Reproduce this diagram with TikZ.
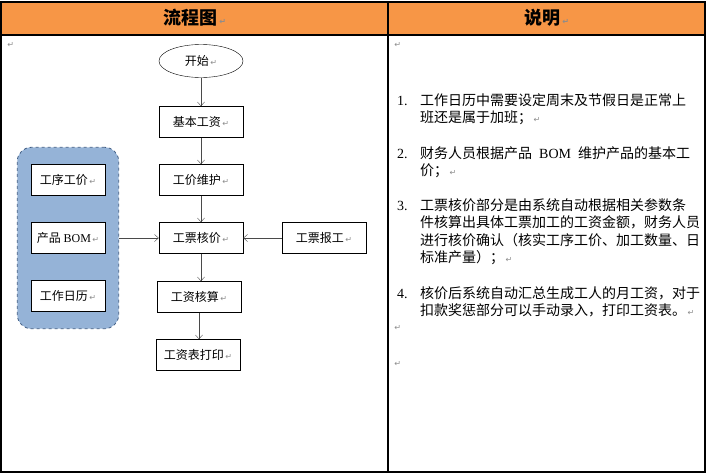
\documentclass[tikz,border=0pt]{standalone}
\usepackage{fontspec}
\setmainfont{Noto Sans CJK SC}
\newfontfamily\serifrm{Liberation Serif}
\newfontfamily\symfont{DejaVu Sans}
\usepackage{tikz}
\usetikzlibrary{positioning}
\usetikzlibrary{shapes,shapes.geometric,arrows.meta,fit,backgrounds}
\definecolor{headorange}{HTML}{F79646}
\definecolor{groupblue}{HTML}{95B3D7}
\definecolor{groupline}{HTML}{3F5C82}
\definecolor{markgray}{HTML}{8C8C8C}
\definecolor{edgegray}{HTML}{4A4A4A}
\newcommand{\retmark}{{\symfont\fontsize{8}{8}\selectfont\color{markgray}\,↵}}
\tikzstyle{novertex} = [draw=none, fill=none, text centered, inner sep=0pt]
\tikzstyle{startnode} = [ellipse, draw, minimum width=84pt, minimum height=33pt, inner sep=0pt, font=\fontsize{12}{12}\selectfont]
\tikzstyle{stepnode} = [rectangle, draw, fill=white, minimum width=84pt, minimum height=31pt, inner sep=0pt, font=\fontsize{12}{12}\selectfont]
\tikzstyle{datanode} = [rectangle, draw, fill=white, minimum width=74pt, minimum height=31pt, inner sep=0pt, font=\fontsize{12}{12}\selectfont]
\tikzstyle{groupbox} = [rectangle, draw=groupline, thick, dashed, fill=groupblue, rounded corners=14pt]
\tikzstyle{flow} = [draw, edgegray, -{Straight Barb[length=4pt,width=7pt]}]
\tikzstyle{headtext} = [novertex, font=\fontsize{18}{18}\selectfont\bfseries]
\tikzstyle{itemtext} = [novertex, anchor=base west, align=left, font=\fontsize{14}{17.5}\selectfont]
\tikzstyle{numtext} = [novertex, anchor=base west, font=\fontsize{14}{17.5}\selectfont\serifrm]

\begin{document}
\begin{tikzpicture}[x=1pt, y=-1pt]
	\useasboundingbox (0,0) rectangle (707,474);

	% table
	\fill [headorange] (1,2) rectangle (705,35);
	\draw [line width=1.1pt] (1,2) rectangle (705,472);
	\draw [line width=1.1pt] (1,35) -- (705,35);
	\draw [line width=1.1pt] (388,2) -- (388,472);
	\node [headtext] (H1) at (195,18) {流程图\retmark};
	\node [headtext] (H2) at (547,18) {说明\retmark};
	\node [novertex] (R0) at (10,45) {\retmark};

	% place nodes
	\node [startnode] (N0) at (201,61) {开始\retmark};
	\node [stepnode, below of=N0, node distance=61pt]             (N1) {基本工资\retmark};
	\node [stepnode, below of=N1, node distance=58pt]             (N2) {工价维护\retmark};
	\node [stepnode, below of=N2, node distance=58pt]             (N3) {工票核价\retmark};
	\node [stepnode, below of=N3, node distance=59pt, xshift=-2pt] (N4) {工资核算\retmark};
	\node [stepnode, below of=N4, node distance=58pt, xshift=-1pt] (N5) {工资表打印\retmark};
	\node [stepnode, right of=N3, node distance=123pt]            (N6) {工票报工\retmark};
	\node [datanode, left of=N3, node distance=133pt]             (D2) {产品 {\serifrm BOM}\retmark};
	\node [datanode, above of=D2, node distance=58pt]             (D1) {工序工价\retmark};
	\node [datanode, below of=D2, node distance=58pt]             (D3) {工作日历\retmark};
	\begin{scope}[on background layer]
		\node [groupbox, fit=(D1)(D3), inner xsep=13.5pt, inner ysep=17pt] (G) {};
	\end{scope}

	% draw edges
	\path [flow] (N0) -- (N1);
	\path [flow] (N1) -- (N2);
	\path [flow] (N2) -- (N3);
	\path [flow] (N3.south) -- (N3.south |- N4.north);
	\path [flow] (N4.south) -- (N4.south |- N5.north);
	\path [flow] (G) -- (N3);
	\path [flow] (N6) -- (N3);

	% notes (base = last line)
	\node [novertex] (R1) at (397,45) {\retmark};
	\node [numtext] (L1) at (397,105) {1.};
	\node [itemtext] (T1) at (420,122.5) {工作日历中需要设定周末及节假日是正常上\\班还是属于加班；\retmark};
	\node [numtext] (L2) at (397,158) {2.};
	\node [itemtext] (T2) at (420,175.5) {财务人员根据产品\hspace{7pt}{\serifrm BOM}\hspace{7pt}维护产品的基本工\\价；\retmark};
	\node [numtext] (L3) at (397,210) {3.};
	\node [itemtext] (T3) at (420,262.5) {工票核价部分是由系统自动根据相关参数条\\件核算出具体工票加工的工资金额，财务人员\\进行核价确认（核实工序工价、加工数量、日\\标准产量）；\retmark};
	\node [numtext] (L4) at (397,298) {4.};
	\node [itemtext] (T4) at (420,315.5) {核价后系统自动汇总生成工人的月工资，对于\\扣款奖惩部分可以手动录入，打印工资表。\retmark};
	\node [novertex] (R2) at (397,328) {\retmark};
	\node [novertex] (R3) at (397,364) {\retmark};
\end{tikzpicture}
\end{document}
